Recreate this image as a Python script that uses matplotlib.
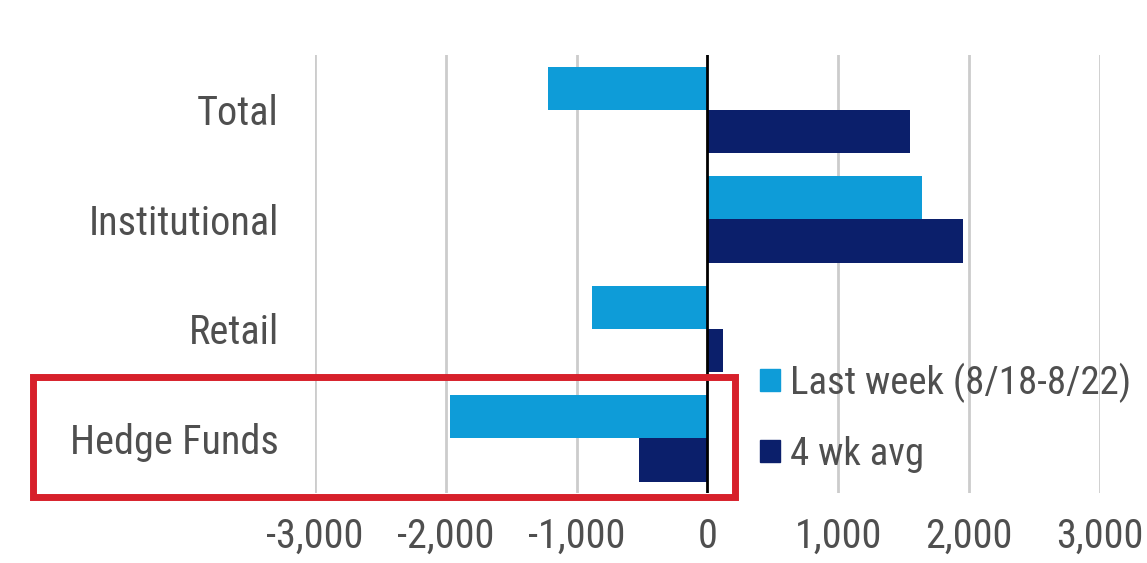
import matplotlib
matplotlib.use("Agg")
import matplotlib.pyplot as plt
import numpy as np
from matplotlib.patches import Patch, Rectangle
from matplotlib.ticker import FuncFormatter

plt.rcParams["font.family"] = ["Roboto Condensed", "Lato", "DejaVu Sans"]

categories = ["Total", "Institutional", "Retail", "Hedge Funds"]
last_week = [-1220, 1640, -880, -1970]
four_wk_avg = [1550, 1950, 120, -520]
series_labels = ["Last week (8/18-8/22)", "4 wk avg"]
xticks = [-3000, -2000, -1000, 0, 1000, 2000, 3000]

LIGHT = "#0E9CD8"
DARK = "#0B1F6B"
GREY = "#4f4f4f"

fig = plt.figure(figsize=(11.47, 5.63), dpi=100)
ax = fig.add_axes([0.2746, 0.1243, 0.6844, 0.778])

y = np.arange(len(categories))
h = 0.395
ax.barh(y - h / 2, last_week, height=h, color=LIGHT, zorder=3)
ax.barh(y + h / 2, four_wk_avg, height=h, color=DARK, zorder=3)

for t in xticks:
    if t != 0:
        ax.axvline(t, color="#cccccc", lw=2, zorder=1)
ax.axvline(0, color="black", lw=2, zorder=4)

ax.set_xlim(-3000, 3000)
ax.set_ylim(len(categories) - 0.5, -0.5)
ax.set_xticks(xticks)
ax.xaxis.set_major_formatter(FuncFormatter(lambda v, p: f"{v:,.0f}".replace("\u2212", "-")))
ax.set_yticks(y)
ax.set_yticklabels(categories)
ax.tick_params(axis="both", length=0, colors=GREY)
ax.tick_params(axis="y", pad=26, labelsize=29)
ax.tick_params(axis="x", pad=17, labelsize=29)
for s in ax.spines.values():
    s.set_visible(False)

handles = [Patch(color=LIGHT), Patch(color=DARK)]
ax.legend(handles, series_labels, loc="upper left", bbox_to_anchor=(0.567, 0.298),
          frameon=False, fontsize=28, labelcolor=GREY, handlelength=0.52,
          handleheight=0.52, handletextpad=0.26, labelspacing=0.85, borderaxespad=0,
          borderpad=0)

# red highlight box around Hedge Funds
fig.patches.append(Rectangle((33 / 1147, 1 - 497 / 563), (735 - 33) / 1147, (497 - 377) / 563,
                             transform=fig.transFigure, fill=False, edgecolor="#D7202B",
                             lw=5, zorder=10))

fig.savefig("out.png", dpi=100)
